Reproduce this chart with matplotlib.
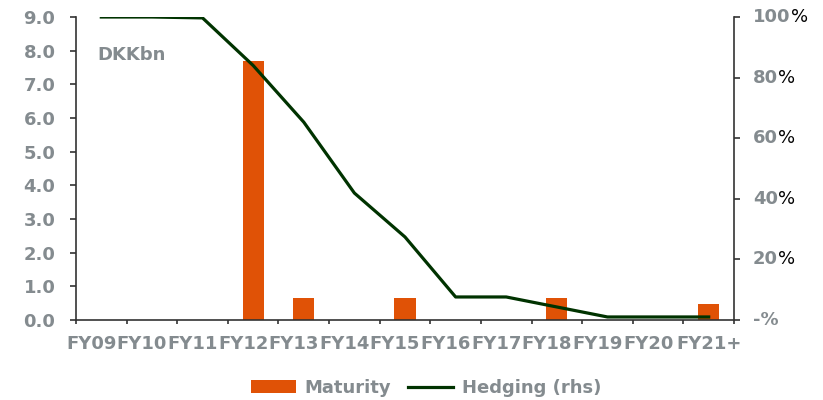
import matplotlib
matplotlib.use("Agg")
import matplotlib.pyplot as plt
from matplotlib.transforms import ScaledTranslation
import numpy as np

plt.rcParams['font.family'] = ['DejaVu Sans']
plt.rcParams['font.weight'] = 'bold'

# Data
years = ["FY09", "FY10", "FY11", "FY12", "FY13", "FY14", "FY15",
         "FY16", "FY17", "FY18", "FY19", "FY20", "FY21+"]
maturity = [0, 0, 0, 7.7, 0.65, 0, 0.65, 0, 0, 0.65, 0, 0, 0.48]
hedging = [1.00, 1.00, 0.997, 0.84, 0.653, 0.419, 0.274,
           0.076, 0.076, 0.043, 0.01, 0.01, 0.01]
left_ticks = [0.0, 1.0, 2.0, 3.0, 4.0, 5.0, 6.0, 7.0, 8.0, 9.0]
right_ticks = [0.0, 0.2, 0.4, 0.6, 0.8, 1.0]

ORANGE = "#E05206"
GREEN = "#003300"
GRAY = "#848B8F"
SPINE = "#333333"
FS = 13

fig = plt.figure(figsize=(8.23, 4.0), dpi=100)
ax = fig.add_axes([76 / 823, 80 / 400, (734 - 76) / 823, (320 - 17) / 400])
ax2 = ax.twinx()

x = np.arange(len(years))
bars = ax.bar(x, maturity, width=0.42, color=ORANGE, zorder=2, label="Maturity")
line, = ax2.plot(x, hedging, color=GREEN, lw=2.3, zorder=3, label="Hedging (rhs)")

ax.set_xlim(-0.5, len(years) - 0.5)
ax.set_ylim(0, 9)
ax2.set_ylim(0, 1)

# Category boundaries carry the tick marks; labels sit at category centres
ax.set_xticks(np.arange(-0.5, len(years), 1.0))
ax.set_xticklabels([])
ax.set_xticks(x, minor=True)
ax.set_xticklabels(years, minor=True, fontsize=FS, color=GRAY, fontweight='bold')
ax.tick_params(axis='x', which='major', direction='out', length=3, width=1.2, color=SPINE)
ax.tick_params(axis='x', which='minor', length=0, pad=11)
# labels run together as a continuous strip, nudged slightly left
shift = ScaledTranslation(-10 / 100, 0, fig.dpi_scale_trans)
for lbl in ax.get_xticklabels(minor=True)[:-1]:
    lbl.set_transform(lbl.get_transform() + shift)

ax.set_yticks(left_ticks)
ax.set_yticklabels([f"{v:.1f}" for v in left_ticks], fontsize=FS, color=GRAY, fontweight='bold')
ax.tick_params(axis='y', direction='out', length=4.3, width=1.2, color=SPINE, pad=10.5)

ax2.set_yticks(right_ticks)
ax2.set_yticklabels([])
ax2.tick_params(axis='y', direction='out', length=4.3, width=1.2, color=SPINE)

# Right-hand percentage labels: number in grey, percent sign in black
ytrans = ax2.get_yaxis_transform()
for v in right_ticks:
    if v == 0:
        ax2.annotate("-%", xy=(1, v), xycoords=ytrans, xytext=(13.5, 0),
                     textcoords='offset points', ha='left', va='center',
                     fontsize=FS, color=GRAY, fontweight='bold', annotation_clip=False)
    else:
        num = ax2.annotate(f"{int(round(v * 100))}", xy=(1, v), xycoords=ytrans,
                           xytext=(13.5, 0), textcoords='offset points', ha='left',
                           va='center', fontsize=FS, color=GRAY, fontweight='bold',
                           annotation_clip=False)
        ax2.annotate("%", xy=(1, 0.5), xycoords=num, xytext=(0.3, 0),
                     textcoords='offset points', ha='left', va='center',
                     fontsize=FS, color='black', fontweight='normal',
                     annotation_clip=False)

for a in (ax, ax2):
    a.spines['top'].set_visible(False)
    for s in ('left', 'right', 'bottom'):
        a.spines[s].set_color(SPINE)
        a.spines[s].set_linewidth(1.2)
ax.spines['right'].set_visible(False)
ax2.spines['left'].set_visible(False)
ax2.spines['bottom'].set_visible(False)

ax.text(0.032, 0.875, "DKKbn", transform=ax.transAxes, fontsize=FS, color=GRAY,
        fontweight='bold', ha='left', va='center')

leg = fig.legend([bars, line], ["Maturity", "Hedging (rhs)"], loc='center',
                 bbox_to_anchor=(426 / 823, 1 - 388 / 400), ncol=2, frameon=False,
                 fontsize=FS, handlelength=2.5, handletextpad=0.5, columnspacing=0.9,
                 handleheight=0.7)
for t in leg.get_texts():
    t.set_color(GRAY)
    t.set_fontweight('bold')

fig.savefig("out.png", dpi=100)
